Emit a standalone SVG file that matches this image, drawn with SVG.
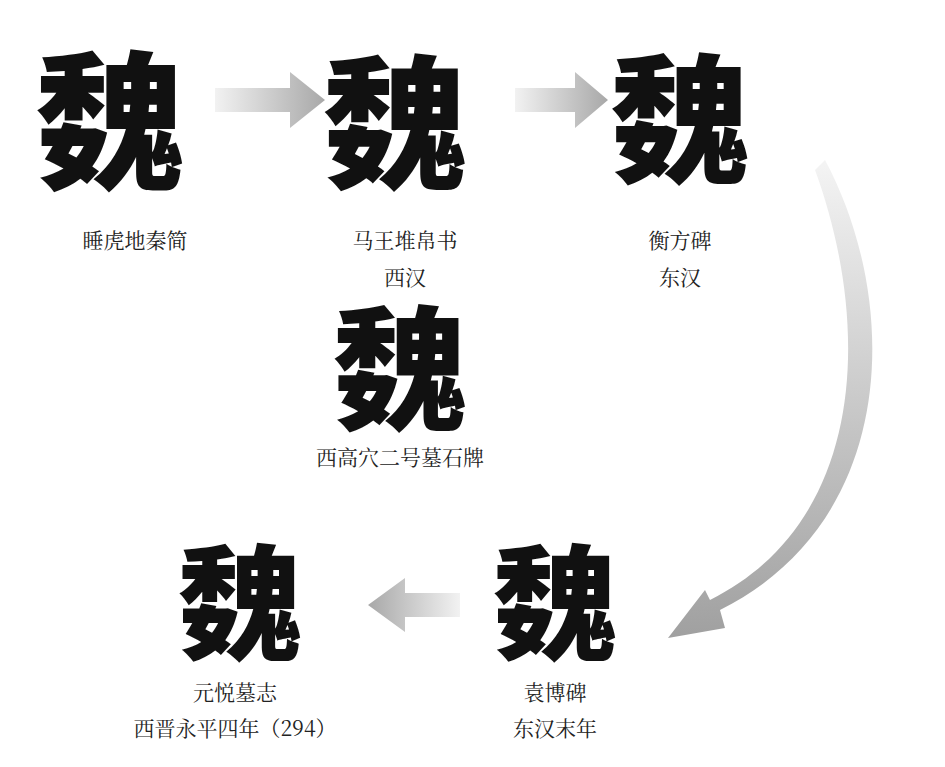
<svg xmlns="http://www.w3.org/2000/svg" width="945" height="767" viewBox="0 0 945 767">
<style>
.ch{font-family:"Noto Sans CJK SC","Noto Sans CJK TC",serif;font-weight:900;fill:#111;text-anchor:middle}
.lb{font-family:"Noto Serif CJK SC","Noto Sans CJK SC",serif;font-size:21px;fill:#222;text-anchor:middle}
</style>
<defs>
<linearGradient id="gr" x1="0" y1="0" x2="1" y2="0"><stop offset="0" stop-color="#f2f2f2"/><stop offset="1" stop-color="#a8a8a8"/></linearGradient>
<linearGradient id="gl" x1="1" y1="0" x2="0" y2="0"><stop offset="0" stop-color="#f2f2f2"/><stop offset="1" stop-color="#a8a8a8"/></linearGradient>
<linearGradient id="gc" x1="0" y1="0" x2="0" y2="1"><stop offset="0" stop-color="#f4f4f4"/><stop offset="1" stop-color="#a0a0a0"/></linearGradient>
</defs>
<rect width="945" height="767" fill="#fff"/>
<g id="connectors">
<path d="M215 88 L290 88 L290 72 L325 100 L290 128 L290 112 L215 112 Z" fill="url(#gr)"/>
<path d="M515 88 L575 88 L575 72 L608 100 L575 128 L575 112 L515 112 Z" fill="url(#gr)"/>
<path d="M460 593 L405 593 L405 578 L368 605 L405 632 L405 617 L460 617 Z" fill="url(#gl)"/>
<path d="M825 160 C900 300 900 520 720 610 L725 628 L668 638 L705 590 L710 600 C870 520 870 320 815 170 Z" fill="url(#gc)"/>
</g>
<g id="n1"><text class="ch" x="110" y="178" font-size="150">魏</text><text class="lb" x="135" y="248">睡虎地秦简</text></g>
<g id="n2"><text class="ch" x="395" y="178" font-size="145">魏</text><text class="lb" x="405" y="248">马王堆帛书</text><text class="lb" x="405" y="285">西汉</text></g>
<g id="n3"><text class="ch" x="680" y="172" font-size="140">魏</text><text class="lb" x="680" y="248">衡方碑</text><text class="lb" x="680" y="285">东汉</text></g>
<g id="n4"><text class="ch" x="400" y="420" font-size="135">魏</text><text class="lb" x="400" y="465">西高穴二号墓石牌</text></g>
<g id="n5"><text class="ch" x="555" y="650" font-size="125">魏</text><text class="lb" x="555" y="700">袁博碑</text><text class="lb" x="555" y="736">东汉末年</text></g>
<g id="n6"><text class="ch" x="240" y="650" font-size="125">魏</text><text class="lb" x="235" y="700">元悦墓志</text><text class="lb" x="235" y="736">西晋永平四年（294）</text></g>
</svg>
